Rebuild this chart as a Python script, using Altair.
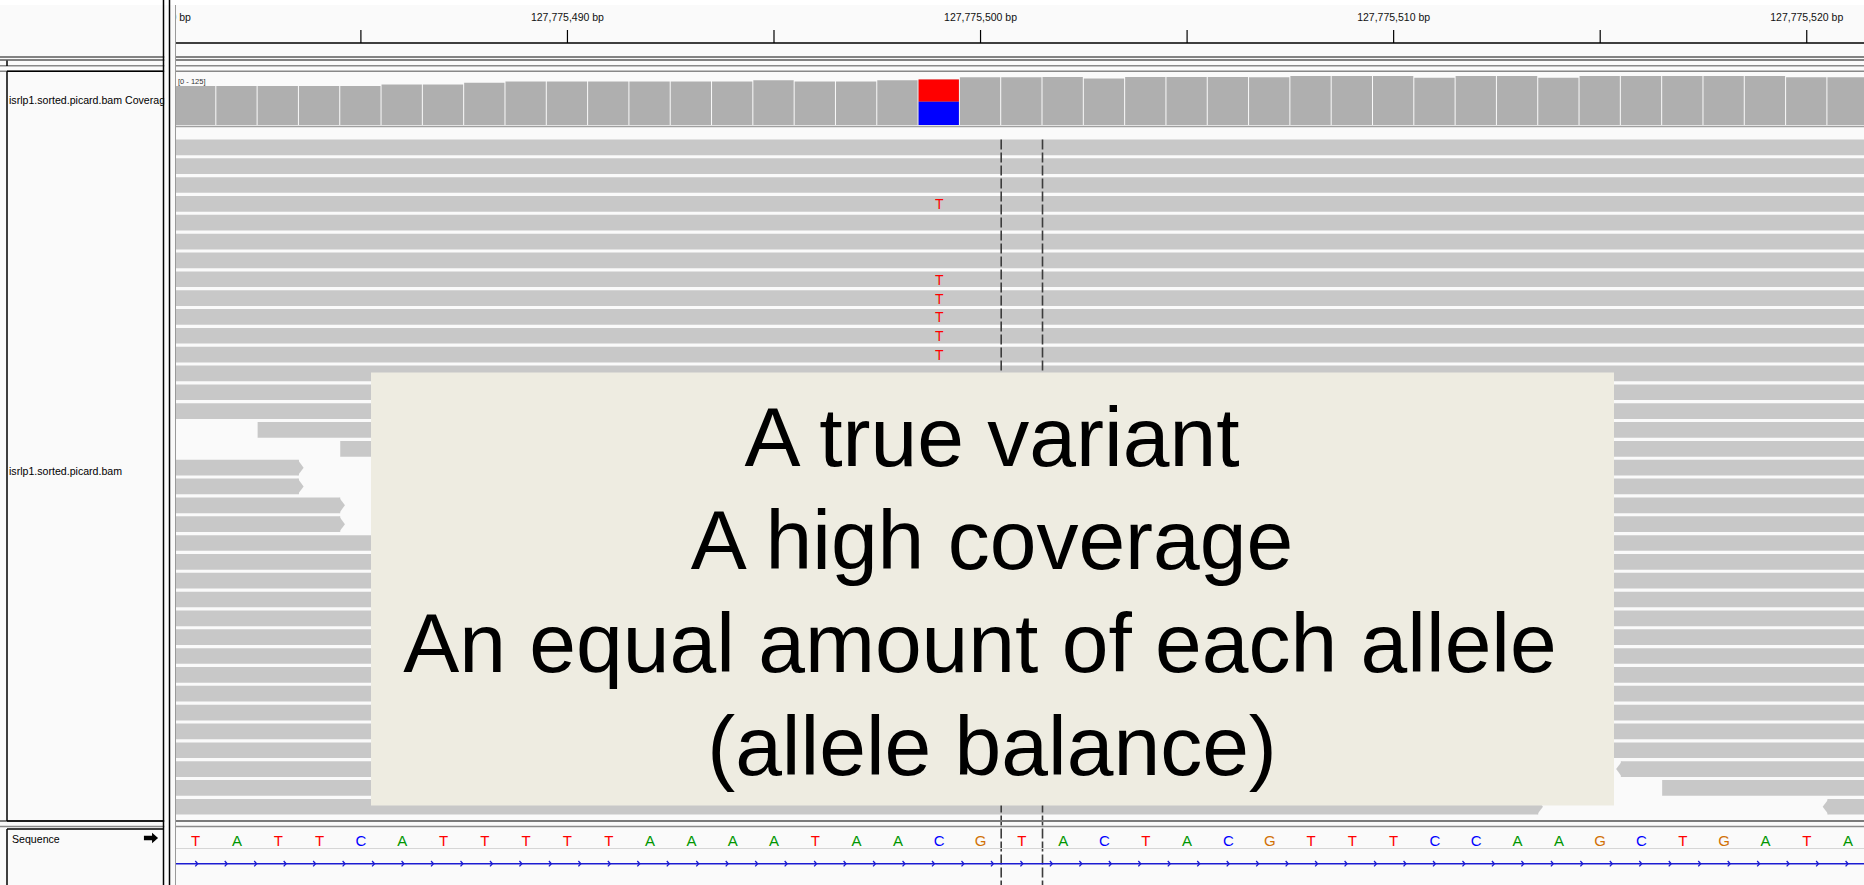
import altair as alt
import pandas as pd

# ---------------- reference window ----------------
first_pos = 127775481
ref_seq = list("TATTCATTTTTAAAATAACGTACTACGTTTCCAAGCTGATA")
center_pos = 127775501

# ---------------- coverage track ----------------
coverage = [93, 93, 93, 93, 93, 97, 97, 101, 104, 104,
            104, 104, 104, 104, 107, 104, 104, 107, 109, 114,
            114, 115, 111, 115, 115, 115, 114, 117, 117, 117,
            113, 117, 117, 113, 117, 117, 117, 117, 117, 114, 114]
coverage_range = [0, 125]
variant_pos = 127775499
variant_alleles = ["C", "T"]
variant_counts = [56, 53]

# ---------------- ruler ----------------
ruler_ticks = [127775485, 127775490, 127775495, 127775500,
               127775505, 127775510, 127775515, 127775520]
ruler_labels = [127775480, 127775490, 127775500, 127775510, 127775520]

# ---------------- alignments (one entry per read) ----------------
read_row = [0, 1, 2, 3, 4, 5, 6, 7, 8, 9, 10, 11, 12, 13, 14,
            15, 16, 17, 17, 18, 18, 19, 19, 20, 20,
            21, 22, 23, 24, 25, 26, 27, 28, 29, 30, 31, 32,
            33, 33, 34, 34, 35, 35]
read_start = [127775431, 127775440, 127775425, 127775452, 127775436, 127775447,
              127775428, 127775455, 127775433, 127775460, 127775442, 127775450,
              127775438, 127775445, 127775429,
              127775483, 127775485, 127775384, 127775489, 127775384, 127775491,
              127775385, 127775494, 127775385, 127775496,
              127775437, 127775446, 127775430, 127775458, 127775441, 127775434,
              127775449, 127775427, 127775454, 127775439, 127775444, 127775432,
              127775409, 127775516, 127775411, 127775517, 127775414, 127775521]
read_end = [127775530, 127775539, 127775524, 127775551, 127775535, 127775546,
            127775527, 127775554, 127775532, 127775559, 127775541, 127775549,
            127775537, 127775544, 127775528,
            127775582, 127775584, 127775483, 127775588, 127775483, 127775590,
            127775484, 127775593, 127775484, 127775595,
            127775536, 127775545, 127775529, 127775557, 127775540, 127775533,
            127775548, 127775526, 127775553, 127775538, 127775543, 127775531,
            127775508, 127775615, 127775510, 127775616, 127775513, 127775620]
read_strand = ["+", "-", "+", "-", "+", "+", "-", "+", "-", "+", "-", "+", "-", "+", "-",
               "+", "+", "+", "-", "+", "+", "+", "-", "+", "+",
               "+", "-", "+", "-", "+", "-", "+", "-", "+", "-", "+", "-",
               "+", "-", "-", "+", "+", "-"]

mismatch_rows = [3, 7, 8, 9, 10, 11]
mismatch_base = "T"

# ---------------- text ----------------
track_coverage = "isrlp1.sorted.picard.bam Coverage"
track_reads = "isrlp1.sorted.picard.bam"
track_sequence = "Sequence"
callout_lines = ["A true variant", "A high coverage",
                 "An equal amount of each allele", "(allele balance)"]

base_colors = {"A": "#009600", "C": "#0000ff", "G": "#d17105", "T": "#ff0000"}

# ---------------- layout ----------------
W, H = 1864, 885
DATA_LEFT = 175
BP_PX = 41.31
VIEW_START = first_pos - 0.5
VIEW_END = VIEW_START + (W - DATA_LEFT) / BP_PX
ROW_TOP, ROW_PITCH, N_ROWS = 139.5, 18.84, 36
READ_FRAC = 0.833
BG = "#fafafa"
READ_GRAY = "#c8c8c8"
COV_GRAY = "#afafaf"
SANS = "Liberation Sans, Arial, sans-serif"

gx = alt.Scale(domain=[VIEW_START, VIEW_END], range=[DATA_LEFT, W], nice=False, zero=False)
gy_cov = alt.Scale(domain=coverage_range, range=[125, 72.7], nice=False, zero=False)
gy_reads = alt.Scale(domain=[0, N_ROWS], range=[ROW_TOP, ROW_TOP + N_ROWS * ROW_PITCH],
                     nice=False, zero=False)
px = alt.Scale(domain=[0, W], range=[0, W], nice=False, zero=False)

one = pd.DataFrame({"k": [0]})


def frame_rect(x1, x2, y1, y2, fill):
    return alt.Chart(one).mark_rect(fill=fill).encode(
        x=alt.value(x1), x2=alt.value(x2), y=alt.value(y1), y2=alt.value(y2))


def hrule(y, x1, x2, color, width):
    return alt.Chart(one).mark_rule(color=color, strokeWidth=width).encode(
        x=alt.value(x1), x2=alt.value(x2), y=alt.value(y))


def vrule(x, y1, y2, color, width):
    return alt.Chart(one).mark_rule(color=color, strokeWidth=width).encode(
        x=alt.value(x), y=alt.value(y1), y2=alt.value(y2))


def label(text, x, y, size, font=SANS, color="black", align="left", baseline="middle"):
    return alt.Chart(one).mark_text(text=text, font=font, fontSize=size, color=color,
                                    align=align, baseline=baseline).encode(
        x=alt.value(x), y=alt.value(y))


layers = []

# top strip
layers.append(frame_rect(0, W, 0, 5, "#ffffff"))

# ---- ruler ----
ruler_df = pd.DataFrame({"pos": ruler_labels})
layers.append(
    alt.Chart(ruler_df)
    .transform_calculate(lab="format(datum.pos, ',') + ' bp'")
    .mark_text(font=SANS, fontSize=10.5, baseline="middle", color="#111")
    .encode(x=alt.X("pos:Q", scale=gx, axis=None), y=alt.value(17.5), text="lab:N")
)
tick_df = pd.DataFrame({"pos": ruler_ticks})
layers.append(
    alt.Chart(tick_df)
    .mark_rule(color="black", strokeWidth=1.2)
    .encode(x=alt.X("pos:Q", scale=gx, axis=None), y=alt.value(30), y2=alt.value(43))
)
layers.append(hrule(43, DATA_LEFT, W, "black", 1.5))

# ---- coverage ----
cov_df = pd.DataFrame({"pos": [first_pos + i for i in range(len(coverage))],
                       "depth": coverage})
layers.append(
    alt.Chart(cov_df)
    .transform_calculate(x0="datum.pos - 0.5", x1="datum.pos + 0.5")
    .mark_rect(color=COV_GRAY, x2Offset=-1)
    .encode(x=alt.X("x0:Q", scale=gx, axis=None), x2="x1:Q",
            y=alt.Y("depth:Q", scale=gy_cov, axis=None), y2=alt.datum(0))
)
var_df = pd.DataFrame({"allele": variant_alleles, "count": variant_counts})
var_df["hi"] = var_df["count"].cumsum()
var_df["lo"] = var_df["hi"] - var_df["count"]
var_df["pos"] = variant_pos
layers.append(
    alt.Chart(var_df)
    .transform_calculate(x0="datum.pos - 0.5", x1="datum.pos + 0.5")
    .mark_rect(x2Offset=-1)
    .encode(x=alt.X("x0:Q", scale=gx, axis=None), x2="x1:Q",
            y=alt.Y("hi:Q", scale=gy_cov, axis=None), y2="lo:Q",
            color=alt.Color("allele:N", legend=None,
                            scale=alt.Scale(domain=list(base_colors),
                                            range=list(base_colors.values()))))
)
layers.append(label(f"[{coverage_range[0]} - {coverage_range[1]}]", 178, 82, 7.5,
                    color="#333"))

# ---- alignments ----
reads_df = pd.DataFrame({"row": read_row, "start": read_start, "end": read_end,
                         "strand": read_strand})
layers.append(
    alt.Chart(reads_df)
    .transform_calculate(x0="datum.start - 0.5", x1="datum.end + 0.5",
                         y1=f"datum.row + {READ_FRAC}")
    .mark_rect(color=READ_GRAY)
    .encode(x=alt.X("x0:Q", scale=gx, axis=None), x2="x1:Q",
            y=alt.Y("row:Q", scale=gy_reads, axis=None), y2="y1:Q")
)
tip_right = "M-0.15,-1L0.6,0L-0.15,1Z"
tip_left = "M0.15,-1L-0.6,0L0.15,1Z"
layers.append(
    alt.Chart(reads_df)
    .transform_calculate(tip="datum.strand == '+' ? datum.end + 0.5 : datum.start - 0.5",
                         yc=f"datum.row + {READ_FRAC / 2}")
    .mark_point(filled=True, opacity=1, color=READ_GRAY, strokeWidth=0,
                size=(READ_FRAC * ROW_PITCH) ** 2)
    .encode(x=alt.X("tip:Q", scale=gx, axis=None),
            y=alt.Y("yc:Q", scale=gy_reads, axis=None),
            shape=alt.Shape("strand:N", legend=None,
                            scale=alt.Scale(domain=["+", "-"], range=[tip_right, tip_left])))
)
mm_df = pd.DataFrame({"row": mismatch_rows, "base": mismatch_base, "pos": variant_pos})
layers.append(
    alt.Chart(mm_df)
    .transform_calculate(yc="datum.row + 0.5")
    .mark_text(font=SANS, fontSize=14, color=base_colors[mismatch_base], baseline="middle")
    .encode(x=alt.X("pos:Q", scale=gx, axis=None),
            y=alt.Y("yc:Q", scale=gy_reads, axis=None), text="base:N")
)

# ---- centre-line markers ----
edge_df = pd.DataFrame({"edge": [center_pos - 0.5, center_pos + 0.5]})
layers.append(
    alt.Chart(edge_df)
    .mark_rule(color="#3c3c3c", strokeWidth=1.6, strokeDash=[10, 3])
    .encode(x=alt.X("edge:Q", scale=gx, axis=None), y=alt.value(ROW_TOP), y2=alt.value(H))
)

# ---- frame lines between tracks ----
for y, c, w in [(57, "#5a5a5a", 1.6), (60, "#5a5a5a", 1.6), (65.7, "#888", 1.4),
                (71.3, "#888", 1.4), (126.5, "#a0a0a0", 1.5),
                (821, "#7a7a7a", 2), (826.5, "#8a8a8a", 1.4)]:
    layers.append(hrule(y, 0, W, c, w))

# ---- sequence track ----
seq_df = pd.DataFrame({"pos": [first_pos + i for i in range(len(ref_seq))], "base": ref_seq})
layers.append(
    alt.Chart(seq_df)
    .mark_text(font=SANS, fontSize=15, baseline="middle")
    .encode(x=alt.X("pos:Q", scale=gx, axis=None), y=alt.value(841), text="base:N",
            color=alt.Color("base:N", legend=None,
                            scale=alt.Scale(domain=list(base_colors),
                                            range=list(base_colors.values()))))
)
layers.append(hrule(848.5, DATA_LEFT, W, "#d6d6d6", 1.2))
layers.append(hrule(863.7, DATA_LEFT, W, "#1c1cd2", 1.6))
layers.append(
    alt.Chart(alt.sequence(0, 58, as_="k"))
    .transform_calculate(cx="196.5 + 29.47 * datum.k")
    .mark_point(shape="M-0.45,-1L0.45,0L-0.45,1", filled=False, opacity=1,
                color="#1c1cd2", strokeWidth=1.3, size=30)
    .encode(x=alt.X("cx:Q", scale=px, axis=None), y=alt.value(863.7))
)

# ---- name panel ----
layers.append(frame_rect(0, DATA_LEFT, 5, 56, BG))
layers.append(frame_rect(0, DATA_LEFT, 61.5, 65, BG))
layers.append(frame_rect(0, DATA_LEFT, 72, 820, BG))
layers.append(frame_rect(0, DATA_LEFT, 828, H, BG))
layers.append(label(track_coverage, 9, 101, 10.6))
layers.append(label(track_reads, 9, 472, 10.6))
layers.append(label(track_sequence, 12, 840, 10.6))
layers.append(
    alt.Chart(one)
    .mark_point(shape="M-1,-0.32L0.15,-0.32L0.15,-0.75L1,0L0.15,0.75L0.15,0.32L-1,0.32Z",
                filled=True, opacity=1, color="black", strokeWidth=0, size=200)
    .encode(x=alt.value(151), y=alt.value(838))
)
# gutter between the name panel and the data panel
layers.append(frame_rect(164.3, DATA_LEFT, 5, H, BG))
# name boxes
layers.append(vrule(7, 60.5, 66, "black", 1.5))
layers.append(vrule(7, 71.3, 821, "black", 1.5))
layers.append(hrule(71.3, 7, 163.5, "black", 1.5))
layers.append(hrule(821, 7, 163.5, "black", 1.5))
layers.append(vrule(7, 829, H, "black", 1.5))
layers.append(hrule(829, 7, 163.5, "black", 1.5))
layers.append(vrule(163.5, 0, H, "black", 1.5))
layers.append(vrule(169.5, 0, H, "black", 1.5))
layers.append(vrule(175.5, 5, H, "#9a9a9a", 1))

# ---- call-out box ----
layers.append(frame_rect(371, 1614, 372.5, 805.5, "#eeece1"))
callout_x = [992, 992, 980, 992]
callout_y = [466, 569, 672, 775]
for text, cx, cy in zip(callout_lines, callout_x, callout_y):
    layers.append(label(text, cx, cy, 84, align="center", baseline="alphabetic"))

chart = (
    alt.layer(*layers)
    .resolve_scale(x="independent", y="independent", color="independent", shape="independent")
    .properties(width=W, height=H, padding=0, background=BG,
                autosize=alt.AutoSizeParams(type="none"))
    .configure_view(stroke=None)
)

chart.save("out.html", embed_options={"renderer": "svg", "actions": False})
